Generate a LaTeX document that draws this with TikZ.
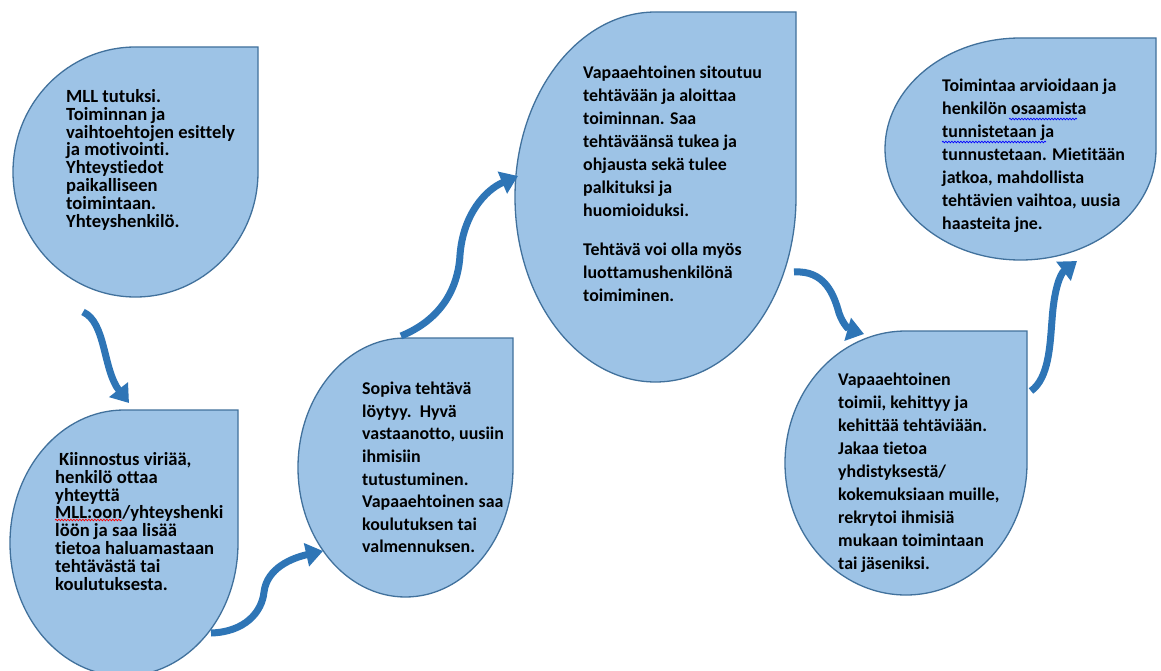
\documentclass[tikz,border=0pt]{standalone}
\usepackage{fontspec}
\setmainfont{Carlito}[Ligatures={NoCommon}]
\usetikzlibrary{arrows.meta,decorations.pathmorphing}
\definecolor{dropfill}{RGB}{157,195,230}
\definecolor{dropline}{RGB}{65,113,156}
\definecolor{arrowblue}{RGB}{46,117,182}
\newcommand\tdrop[5]{% name L T R B
  \pgfmathsetmacro\dcx{(#2+#4)/2}%
  \pgfmathsetmacro\dcy{(#3+#5)/2}%
  \pgfmathsetmacro\dkx{0.5523*(#4-#2)/2}%
  \pgfmathsetmacro\dky{0.5523*(#5-#3)/2}%
  \path[drop] (\dcx,#3) -- (#4,#3) -- (#4,\dcy)
    .. controls (#4,{\dcy+\dky}) and ({\dcx+\dkx},#5) .. (\dcx,#5)
    .. controls ({\dcx-\dkx},#5) and (#2,{\dcy+\dky}) .. (#2,\dcy)
    .. controls (#2,{\dcy-\dky}) and ({\dcx-\dkx},#3) .. (\dcx,#3) -- cycle;
  \coordinate (#1) at (\dcx,\dcy);
}
\tikzset{
  drop/.style={fill=dropfill, draw=dropline, line width=1.3pt},
  txt/.style={anchor=north west, inner sep=0pt, align=left, text=black,
    font=\fontsize{17.9}{23}\selectfont\bfseries},
  tight/.style={font=\fontsize{18.6}{17.9}\selectfont\bfseries},
  arr/.style={draw=arrowblue, line width=7pt,
    -{Triangle[length=17pt,width=23pt]}},
  squig/.style={line width=0.7pt, decorate,
    decoration={snake, amplitude=0.8pt, segment length=3pt}},
}
\begin{document}
\begin{tikzpicture}[x=1pt,y=-1pt]
\useasboundingbox (0,0) rectangle (1161,671);
\fill[white] (0,0) rectangle (1161,671);
\clip (0,0) rectangle (1161,671);

\tdrop{d1}{13}{47}{258}{297}
\tdrop{d2}{10}{410}{238}{676}
\tdrop{d3}{298}{338}{513}{597}
\tdrop{d4}{515}{12}{796}{382}
\tdrop{d5}{785}{331}{1027}{595}
\tdrop{d6}{885}{38}{1156}{260}

\node[txt,tight] (t1) at (66,89) {MLL tutuksi.\\ Toiminnan ja\\ vaihtoehtojen esittely\\ ja motivointi.\\ Yhteystiedot\\ paikalliseen\\ toimintaan.\\ Yhteyshenkilö.};
\node[txt,tight] (t2) at (55,452) {\hspace{4pt}Kiinnostus viriää,\\ henkilö ottaa\\ yhteyttä\\ MLL:oon/yhteyshenki\\ löön ja saa lisää\\ tietoa haluamastaan\\ tehtävästä tai\\ koulutuksesta.};
\node[txt,font=\fontsize{17.9}{22.6}\selectfont\bfseries] (t3) at (362,382) {Sopiva tehtävä\\ löytyy.\ \ Hyvä\\ vastaanotto, uusiin\\ ihmisiin\\ tutustuminen.\\ Vapaaehtoinen saa\\ koulutuksen tai\\ valmennuksen.};
\node[txt] (t4) at (583,66) {Vapaaehtoinen sitoutuu\\ tehtävään ja aloittaa\\ toiminnan. Saa\\ tehtäväänsä tukea ja\\ ohjausta sekä tulee\\ palkituksi ja\\ huomioiduksi.\\[16pt] Tehtävä voi olla myös\\ luottamushenkilönä\\ toimiminen.};
\node[txt] (t5) at (838,373) {Vapaaehtoinen\\ toimii, kehittyy ja\\ kehittää tehtäviään.\\ Jakaa tietoa\\ yhdistyksestä/\\ kokemuksiaan muille,\\ rekrytoi ihmisiä\\ mukaan toimintaan\\ tai jäseniksi.};
\node[txt] (t6) at (942,79) {Toimintaa arvioidaan ja\\ henkilön osaamista\\ tunnistetaan ja\\ tunnustetaan. Mietitään\\ jatkoa, mahdollista\\ tehtävien vaihtoa, uusia\\ haasteita jne.};

% spell-check squiggles
\coordinate (u1s) at (55,520);   \coordinate (u1e) at (122,520);
\coordinate (u2s) at (1009,119); \coordinate (u2e) at (1077,119);
\coordinate (u3s) at (942,142);  \coordinate (u3e) at (1046,142);
\draw[squig, red] (u1s) -- (u1e);
\draw[squig, blue] (u2s) -- (u2e);
\draw[squig, blue] (u3s) -- (u3e);

\coordinate (a1s) at (83,312);
\coordinate (a1e) at (129,403);
\coordinate (a2s) at (211,633);
\coordinate (a2e) at (323,551);
\coordinate (a3s) at (401,336);
\coordinate (a3e) at (518,176);
\coordinate (a4s) at (794,272);
\coordinate (a4e) at (864,334);
\coordinate (a5s) at (1031,391);
\coordinate (a5e) at (1077,261);

\draw[arr] (a1s) .. controls (106,322) and (103,370) .. (a1e);
\draw[arr] (a2s) .. controls (245,632) and (262,612) .. (264,592)
  .. controls (267,568) and (292,558) .. (a2e);
\draw[arr] (a3s) .. controls (440,320) and (458,290) .. (460,255)
  .. controls (463,215) and (485,190) .. (a3e);
\draw[arr] (a4s) .. controls (825,270) and (834,295) .. (839,313)
  .. controls (843,325) and (850,330) .. (a4e);
\draw[arr] (a5s) .. controls (1049,378) and (1050,345) .. (1052,320)
  .. controls (1054,290) and (1060,274) .. (a5e);
\end{tikzpicture}
\end{document}
